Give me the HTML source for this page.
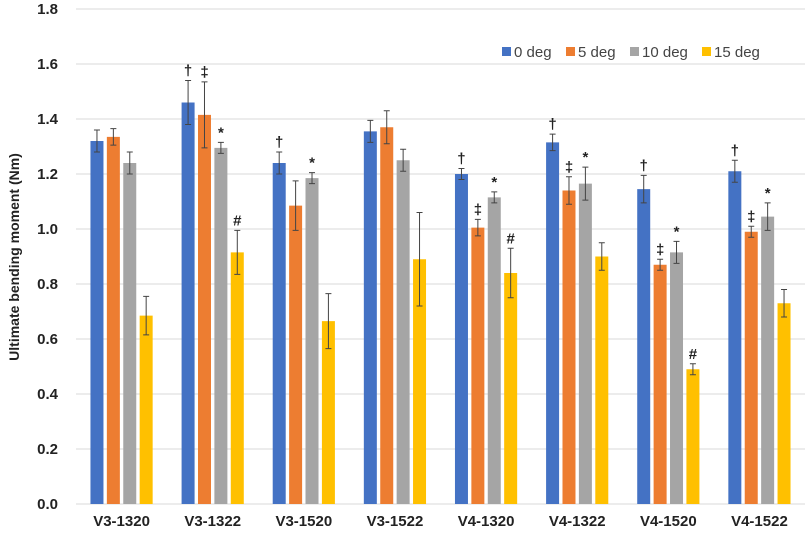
<!DOCTYPE html>
<html><head><meta charset="utf-8"><style>
body{margin:0;background:#fff;}
svg text{font-family:"Liberation Sans",sans-serif;}
</style></head><body>
<svg id="c" width="809" height="531" xmlns="http://www.w3.org/2000/svg"></svg>
<script>
const categories=["V3-1320","V3-1322","V3-1520","V3-1522","V4-1320","V4-1322","V4-1520","V4-1522"];
const seriesNames=["0 deg","5 deg","10 deg","15 deg"];
const deg0=[1.32,1.46,1.24,1.355,1.2,1.315,1.145,1.21];
const deg5=[1.335,1.415,1.085,1.37,1.005,1.14,0.87,0.99];
const deg10=[1.24,1.295,1.185,1.25,1.115,1.165,0.915,1.045];
const deg15=[0.685,0.915,0.665,0.89,0.84,0.9,0.49,0.73];
const err0=[0.04,0.08,0.04,0.04,0.02,0.03,0.05,0.04];
const err5=[0.03,0.12,0.09,0.06,0.03,0.05,0.02,0.02];
const err10=[0.04,0.02,0.02,0.04,0.02,0.06,0.04,0.05];
const err15=[0.07,0.08,0.1,0.17,0.09,0.05,0.02,0.05];
const mark0=["","†","†","","†","†","†","†"];
const mark5=["","‡","","","‡","‡","‡","‡"];
const mark10=["","*","*","","*","*","*","*"];
const mark15=["","#","","","#","","#",""];
const yTicks=["0.0","0.2","0.4","0.6","0.8","1.0","1.2","1.4","1.6","1.8"];
const colors=["#4472c4","#ed7d31","#a5a5a5","#ffc000"];
const series=[deg0,deg5,deg10,deg15],errs=[err0,err5,err10,err15],marks=[mark0,mark5,mark10,mark15];
const svg=document.getElementById('c');const NS="http://www.w3.org/2000/svg";
const x0=76,x1=805,y0=504,yMax=1.8,yTop=9;
const y=v=>y0-(v/yMax)*(y0-yTop);
const gw=(x1-x0)/categories.length;
const bx=(g,s)=>x0+gw*g+gw/2+(s-1.5)*16.4;
function el(t,a,txt){const e=document.createElementNS(NS,t);for(const k in a)e.setAttribute(k,a[k]);if(txt!=null)e.textContent=txt;svg.appendChild(e);return e;}
yTicks.forEach(t=>{const v=parseFloat(t);const yy=y(v);
 const l=el('line',{x1:x0,x2:x1,y1:yy,y2:yy,stroke:'#d9d9d9','stroke-width':1});
 
 const tx=el('text',{x:58,y:yy+5,'text-anchor':'end','font-size':15,'font-weight':'bold',fill:'#222'},t);
 });
const yt=el('text',{x:0,y:0,transform:'translate(19,257) rotate(-90)','text-anchor':'middle','font-size':14,'font-weight':'bold',fill:'#222'},'Ultimate bending moment (Nm)');

categories.forEach((c,g)=>{
 series.forEach((s,i)=>{const cx=bx(g,i);const top=y(s[g]);
  const r=el('rect',{x:cx-6.5,y:top,width:13,height:y0-top,fill:colors[i]});
  
  const e=errs[i][g];const yh=y(s[g]+e),yl=y(s[g]-e);
  const eb=el('path',{d:`M${cx},${yh}V${yl}M${cx-3},${yh}H${cx+3}M${cx-3},${yl}H${cx+3}`,stroke:'#444','stroke-width':1,fill:'none'});
  
  const m=marks[i][g];if(m){const mt=el('text',{x:cx,y:yh-5,'text-anchor':'middle','font-size':15,'font-weight':'bold',fill:'#222'},m);
   }
 });
 const xl=el('text',{x:x0+gw*g+gw/2,y:526,'text-anchor':'middle','font-size':15,'font-weight':'bold',fill:'#222'},c);
 
});
const lx=[502,566,630,702];
seriesNames.forEach((n,i)=>{const sq=el('rect',{x:lx[i],y:47,width:9,height:9,fill:colors[i]});
 
 const t=el('text',{x:lx[i]+12,y:57,'font-size':15,fill:'#444'},n);
 });
</script>
</body></html>
